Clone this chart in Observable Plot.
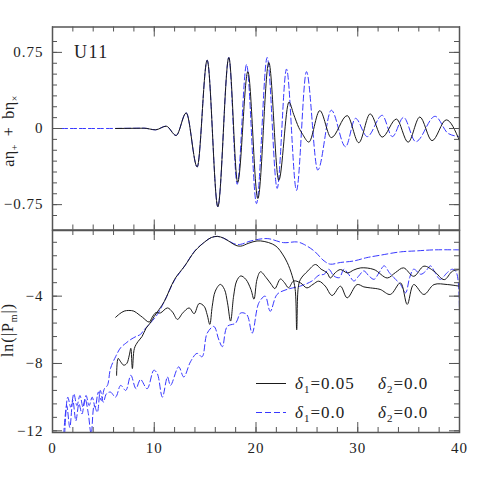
<!DOCTYPE html>
<html><head><meta charset="utf-8">
<script src="https://cdn.jsdelivr.net/npm/d3@7"></script>
<script src="https://cdn.jsdelivr.net/npm/@observablehq/plot@0.6"></script>
<style>
body{margin:0;background:#fff;}
#chart{position:relative;width:485px;height:485px;overflow:hidden;background:#fff;}
#chart svg{position:absolute;left:0;}
</style></head><body><div id="chart"></div>
<script>
// ---------- data ----------
const xTicks = [0, 10, 20, 30, 40];
const topTicks = [-0.75, 0, 0.75];
const bottomTicks = [-12, -8, -4];
const panelLabel = "U11";

// top panel: a*eta_+ + b*eta_x  (extrema)
const waveSolid = [[6.2,0],[8,0.002],[9,0.003],[10.12,-0.013],[11.17,0.023],[12.15,-0.069],[13.14,0.154],[14.22,-0.379],[15.2,0.673],[16.25,-0.771],[17.33,0.699],[18.2,-0.53],[19.2,0.56],[20.18,-0.69],[21.26,0.65],[22.24,-0.51],[23.24,0.26],[23.7,0.14],[24.2,0.01],[24.6,-0.06],[25.19,-0.134],[26.27,0.176],[27.4,-0.09],[28.96,0.127],[30.1,-0.14],[31.22,0.144],[32.4,-0.085],[33.8,0.093],[34.95,-0.135],[36.1,0.113],[37.3,-0.12],[38.7,0.085],[40,-0.12]];
const waveDashed = [[0,0],[5,0],[9,0.003],[10.1,-0.013],[11.17,0.023],[12.15,-0.069],[13.14,0.154],[14.22,-0.379],[15.2,0.673],[16.25,-0.771],[17.33,0.70],[18.15,-0.55],[19.07,0.63],[20.05,-0.74],[21.1,0.70],[22.08,-0.59],[23.0,0.585],[23.98,-0.61],[24.96,0.56],[26.07,-0.41],[27.4,0.18],[28.8,-0.18],[29.78,0.10],[30.93,-0.08],[32.4,0.13],[33.4,-0.08],[34.5,0.11],[35.7,-0.13],[37.6,0.12],[38.9,-0.05],[40,-0.08]];

// bottom panel: ln(|P_m|)
const pSolidA = [[6.3,-8.7],[6.45,-7.7],[6.7,-7.9],[7.0,-8.1],[7.3,-8.0],[7.55,-7.5],[7.7,-7.1],[7.85,-8.3],[8.05,-7.1],[8.4,-6.7],[8.8,-6.4],[9.2,-5.9],[9.6,-5.6],[10.0,-5.2],[10.5,-4.77],[11,-4.3],[12,-3.0],[13,-2.2],[14,-1.32],[15,-0.76],[15.6,-0.52],[16.2,-0.45],[16.8,-0.55],[17.5,-0.8],[18.0,-0.98],[18.5,-1.03],[19.3,-0.85],[20.1,-0.72],[20.8,-0.75],[21.6,-0.9],[22.1,-1.1],[22.6,-1.5],[23.06,-1.99],[23.55,-2.78],[23.85,-3.6],[24.0,-6.0],[24.15,-3.5],[24.37,-3.0],[25.1,-2.5],[25.85,-2.12],[26.4,-2.4],[27.0,-2.62],[27.3,-2.92],[27.8,-2.6],[28.3,-2.42],[29.0,-2.62],[29.6,-2.45],[30.3,-2.32],[31.6,-2.42],[32.9,-2.92],[33.7,-2.6],[34.5,-2.32],[35.5,-2.82],[36.5,-2.22],[37.5,-2.52],[38.5,-3.02],[39.3,-2.52],[40,-2.42]];
const pSolidB = [[6.2,-5.26],[6.6,-5.05],[7.04,-4.89],[7.5,-4.85],[8.0,-4.89],[8.5,-5.1],[8.85,-5.26],[9.5,-5.54],[9.8,-5.25],[10.16,-4.98],[10.6,-5.0],[11.3,-4.7],[11.8,-4.95],[12.28,-5.38],[12.8,-5.0],[13.43,-4.7],[13.92,-5.04],[14.41,-4.44],[14.9,-4.6],[15.2,-5.1],[15.46,-5.68],[15.7,-4.6],[16.0,-3.7],[16.5,-3.3],[16.9,-3.6],[17.2,-4.4],[17.5,-5.48],[17.8,-4.0],[18.1,-3.1],[18.5,-2.8],[19.0,-3.0],[19.5,-3.6],[19.8,-4.18],[20.1,-3.0],[20.44,-2.55],[21.0,-2.9],[21.5,-3.3],[21.85,-3.55],[22.4,-2.98],[22.8,-3.2],[23.2,-3.5],[23.7,-3.1],[24.37,-3.21],[25.0,-3.51],[25.6,-3.3],[26.17,-3.11],[26.8,-3.4],[27.48,-3.96],[28.3,-3.41],[28.96,-4.1],[29.94,-3.31],[30.6,-3.45],[31.25,-3.51],[32.2,-3.6],[33.2,-3.9],[34.2,-3.21],[34.86,-4.49],[35.5,-3.31],[36.5,-3.9],[37.5,-3.31],[38.8,-3.31],[40,-3.41]];
const pDashedA = [[1.2,-12.2],[1.5,-10.0],[1.8,-10.6],[2.1,-9.8],[2.4,-10.5],[2.7,-9.9],[3.0,-10.6],[3.3,-9.9],[3.6,-10.5],[3.9,-10.0],[4.2,-10.6],[4.5,-9.7],[4.8,-10.2],[5.1,-9.5],[5.4,-9.3],[5.7,-8.3],[6.2,-7.6],[6.7,-7.06],[7.2,-6.8],[7.7,-6.57],[8.2,-6.4],[8.65,-6.27],[9.0,-6.0],[9.5,-5.68],[10.3,-5.09],[11,-4.3],[12,-3.05],[13,-2.2],[14,-1.3],[15,-0.76],[15.6,-0.52],[16.2,-0.45],[16.8,-0.55],[17.5,-0.78],[18,-0.92],[18.5,-0.92],[19.5,-0.72],[21.1,-0.58],[22.7,-0.82],[24.05,-0.78],[24.7,-0.92],[25.7,-1.31],[26.7,-1.91],[27.3,-2.1],[28.3,-2.0],[29.6,-1.91],[30.9,-1.71],[32.2,-1.57],[34.2,-1.37],[35.8,-1.31],[37.5,-1.25],[40,-1.25]];
const pDashedB = [[1.1,-12.2],[1.4,-10.5],[1.7,-11.8],[2.0,-10.2],[2.3,-11.4],[2.6,-10.4],[2.9,-11.0],[3.2,-10.1],[3.5,-10.9],[3.8,-12.2],[4.1,-10.5],[4.4,-10.9],[4.7,-9.6],[5.0,-10.3],[5.3,-9.8],[5.7,-9.7],[6.2,-10.0],[6.7,-9.3],[7.2,-9.6],[7.7,-8.7],[8.2,-9.5],[8.65,-8.95],[9.3,-9.5],[9.96,-8.4],[10.3,-8.6],[10.8,-10.0],[11.3,-8.8],[11.6,-9.3],[12.4,-8.2],[12.9,-8.8],[13.56,-7.9],[14.2,-7.4],[14.7,-7.6],[15.2,-6.2],[15.86,-5.8],[16.35,-6.6],[16.7,-7.0],[17.17,-5.8],[18.0,-5.6],[18.5,-5.0],[19.1,-5.1],[19.62,-6.2],[20.28,-4.4],[20.9,-4.0],[21.4,-4.9],[22.07,-3.9],[23.05,-3.6],[24.37,-3.4],[25.5,-3.1],[26.2,-2.75],[26.7,-2.7],[27.16,-2.4],[27.65,-2.8],[28.2,-2.9],[28.64,-2.4],[29.1,-2.7],[29.62,-3.1],[30.1,-2.8],[30.6,-2.5],[31.1,-2.8],[31.6,-3.0],[32.1,-2.6],[32.6,-2.2],[33.1,-2.6],[33.55,-2.9],[34.2,-3.3],[34.7,-3.8],[35.1,-2.9],[35.5,-2.4],[36.2,-2.7],[36.7,-2.5],[37.15,-2.2],[37.6,-2.6],[38.1,-3.0],[38.8,-2.6],[39.3,-2.4],[39.7,-2.6],[40,-5.2]];

// ---------- drawing ----------
const W = 485, ML = 52, MR = 26, PW = W - ML - MR;
const FONT = "Liberation Serif";
const BLACK = "#1a1a1a", BLUE = "#3838ff", FRAME = "#555";
const fmt = d => d < 0 ? "\u2212" + Math.abs(d) : String(d);
const xMinor = d3.range(0, 40.001, 2);

function ticks(list, dim, len, PH) {
  const acc = d => d;
  if (dim === "x") return [
    Plot.tickX(list, {x: acc, insetTop: PH - len, stroke: FRAME, strokeWidth: 1}),
    Plot.tickX(list, {x: acc, insetBottom: PH - len, stroke: FRAME, strokeWidth: 1})
  ];
  return [
    Plot.tickY(list, {y: acc, insetRight: PW - len, stroke: FRAME, strokeWidth: 1}),
    Plot.tickY(list, {y: acc, insetLeft: PW - len, stroke: FRAME, strokeWidth: 1})
  ];
}

function panel({top, height, marginTop, marginBottom, yDomain, yMajor, yMinor, series, xLabels, curve}) {
  const PH = height - marginTop - marginBottom;
  const marks = [];
  for (const s of series) {
    marks.push(Plot.line(s.data, {x: d => d[0], y: d => d[1], curve,
      stroke: s.dashed ? BLUE : BLACK, strokeWidth: 1, strokeDasharray: s.dashed ? "6,3" : null, clip: true}));
  }
  marks.push(...ticks(xTicks, "x", 10, PH), ...ticks(xMinor, "x", 5, PH));
  marks.push(...ticks(yMajor, "y", 10, PH), ...ticks(yMinor, "y", 5, PH));
  marks.push(Plot.frame({stroke: FRAME, strokeWidth: 1.5}));
  marks.push(Plot.axisY(yMajor, {anchor: "left", tickSize: 0, tickPadding: 9, tickFormat: fmt, label: null, fill: "#222"}));
  if (xLabels) marks.push(Plot.axisX(xTicks, {anchor: "bottom", tickSize: 0, tickPadding: 10, tickFormat: fmt, label: null, fill: "#222"}));
  const svg = Plot.plot({
    width: W, height, marginLeft: ML, marginRight: MR, marginTop, marginBottom,
    x: {domain: [0, 40], axis: xLabels ? undefined : null},
    y: {domain: yDomain},
    style: {fontFamily: FONT, fontSize: "15px", letterSpacing: "1px", background: "transparent", overflow: "visible"},
    marks
  });
  svg.style.top = top + "px";
  return svg;
}

const chart = document.getElementById("chart");
const topMinor = d3.range(-8, 9).map(i => i * 0.75 / 7);
const botMinor = d3.range(0, 15).map(k => -12 + 0.8 * k);

chart.appendChild(panel({top: 0, height: 230, marginTop: 26.5, marginBottom: 0.5,
  yDomain: [-1, 1], yMajor: topTicks, yMinor: topMinor, curve: "monotone-x",
  series: [{data: waveDashed, dashed: true}, {data: waveSolid}], xLabels: false}));
chart.appendChild(panel({top: 219.5, height: 265.5, marginTop: 10, marginBottom: 53.5,
  yDomain: [-12.1, -0.1], yMajor: bottomTicks, yMinor: botMinor, curve: "catmull-rom",
  series: [{data: pDashedA, dashed: true}, {data: pDashedB, dashed: true}, {data: pSolidA}, {data: pSolidB}], xLabels: true}));

// overlay: titles, panel label, legend
const ov = d3.select(chart).append("svg").attr("width", W).attr("height", 485)
  .style("top", "0px").style("pointer-events", "none")
  .attr("font-family", FONT).attr("fill", "#222");

ov.append("text").attr("x", 74).attr("y", 58).attr("font-size", 18).attr("letter-spacing", 1.5).text(panelLabel);

const t1 = ov.append("text").attr("transform", "translate(14,131) rotate(-90)")
  .attr("text-anchor", "middle").attr("font-size", 16).attr("letter-spacing", 0.5);
t1.append("tspan").text("a\u03B7");
t1.append("tspan").attr("font-size", 10).attr("dy", 4).text("+");
t1.append("tspan").attr("dy", -4).attr("dx", 8).text("+");
t1.append("tspan").attr("dx", 8).text("b\u03B7");
t1.append("tspan").attr("font-size", 10).attr("dy", 4).text("\u00D7");

const t2 = ov.append("text").attr("transform", "translate(13,330) rotate(-90)")
  .attr("text-anchor", "middle").attr("font-size", 16).attr("letter-spacing", 1);
t2.append("tspan").text("ln(|P");
t2.append("tspan").attr("font-size", 10).attr("dy", 4).text("m");
t2.append("tspan").attr("dy", -4).text("|)");

const legendRows = [
  {y: 383.5, dashed: false, d1: "0.05", d2: "0.0"},
  {y: 412.5, dashed: true, d1: "0.0", d2: "0.0"}
];
for (const r of legendRows) {
  ov.append("line").attr("x1", 256).attr("x2", 286).attr("y1", r.y).attr("y2", r.y)
    .attr("stroke", r.dashed ? BLUE : BLACK).attr("stroke-width", 1)
    .attr("stroke-dasharray", r.dashed ? "6,3" : null);
  for (const [x, k, v] of [[295, "1", r.d1], [378, "2", r.d2]]) {
    const t = ov.append("text").attr("x", x).attr("y", r.y + 5).attr("font-size", 17).attr("letter-spacing", 1);
    t.append("tspan").attr("font-style", "italic").text("\u03B4");
    t.append("tspan").attr("font-size", 11).attr("dy", 4).text(k);
    t.append("tspan").attr("dy", -4).text("=" + v);
  }
}
</script></body></html>
